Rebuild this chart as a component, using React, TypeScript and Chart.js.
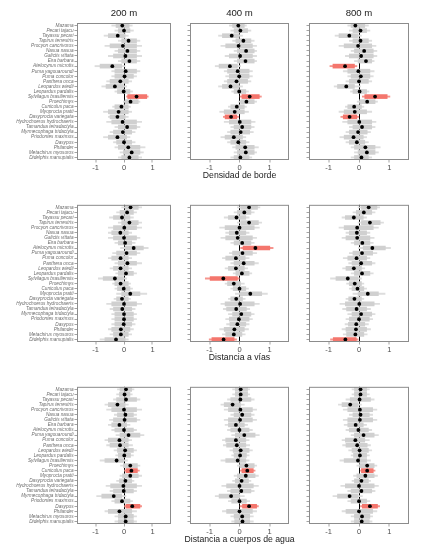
import React, { useEffect, useRef } from 'react';
import { Chart, registerables } from 'chart.js';

Chart.register(...registerables);

const FONT = '"Liberation Sans", Arial, Helvetica, sans-serif';

// ---------- categories / labels ----------
const species = [
  'Mazama', 'Pecari tajacu', 'Tayassu pecari', 'Tapirus terrestris', 'Procyon cancrivorus',
  'Nasua nasua', 'Galictis vittata', 'Eira barbara', 'Atelocynus microtis', 'Puma yagouaroundi',
  'Puma concolor', 'Panthera onca', 'Leopardus wiedii', 'Leopardus pardalis', 'Sylvilagus brasiliensis',
  'Proechimys', 'Cuniculus paca', 'Myoprocta pratti', 'Dasyprocta variegata', 'Hydrochoerus hydrochaeris',
  'Tamandua tetradactyla', 'Myrmecophaga tridactyla', 'Priodontes maximus', 'Dasypus', 'Philander',
  'Metachirus myosuros', 'Didelphis marsupialis',
];
const bufferTitles = ['200 m', '400 m', '800 m'];
const variableTitles = ['Densidad de borde', 'Distancia a vías', 'Distancia a cuerpos de agua'];
const xTicks = [-1, 0, 1];
const xMin = -1.65;
const xMax = 1.65;

// ---------- Densidad de borde ----------
const est_borde_200 = [-0.06, 0.00, -0.22, 0.16, -0.04, 0.12, 0.05, 0.19, -0.41, 0.06, 0.02, -0.13, -0.32, -0.01, 0.44, 0.23, -0.09, -0.19, -0.23, -0.05, 0.11, -0.04, -0.23, 0.00, 0.15, 0.27, 0.19];
const ci50_borde_200 = [[-0.28, 0.18], [-0.20, 0.21], [-0.55, 0.04], [-0.08, 0.44], [-0.49, 0.44], [-0.20, 0.44], [-0.37, 0.44], [-0.08, 0.44], [-0.84, -0.08], [-0.32, 0.44], [-0.32, 0.33], [-0.49, 0.15], [-0.63, -0.02], [-0.23, 0.21], [0.13, 0.80], [0.04, 0.50], [-0.32, 0.15], [-0.55, 0.15], [-0.49, 0.04], [-0.43, 0.44], [-0.20, 0.44], [-0.37, 0.27], [-0.55, 0.09], [-0.26, 0.27], [-0.20, 0.56], [-0.02, 0.56], [-0.08, 0.50]];
const ci95_borde_200 = [[-0.43, 0.29], [-0.32, 0.33], [-0.70, 0.15], [-0.20, 0.56], [-0.67, 0.62], [-0.32, 0.56], [-0.55, 0.62], [-0.20, 0.56], [-1.02, 0.04], [-0.43, 0.56], [-0.43, 0.44], [-0.61, 0.27], [-0.78, 0.09], [-0.32, 0.30], [0.09, 0.85], [-0.02, 0.56], [-0.40, 0.23], [-0.72, 0.27], [-0.55, 0.15], [-0.61, 0.62], [-0.32, 0.56], [-0.49, 0.39], [-0.72, 0.21], [-0.37, 0.39], [-0.32, 0.74], [-0.14, 0.68], [-0.20, 0.62]];

const est_borde_400 = [-0.04, 0.03, -0.26, 0.13, -0.03, 0.22, 0.02, 0.20, -0.32, -0.06, -0.01, -0.10, -0.30, -0.01, 0.34, 0.23, -0.09, -0.16, -0.28, 0.01, 0.09, 0.04, -0.19, -0.04, 0.19, 0.21, 0.03];
const ci50_borde_400 = [[-0.23, 0.16], [-0.18, 0.27], [-0.57, -0.01], [-0.12, 0.38], [-0.46, 0.43], [-0.07, 0.49], [-0.34, 0.43], [-0.07, 0.49], [-0.68, -0.07], [-0.40, 0.32], [-0.34, 0.32], [-0.40, 0.27], [-0.57, -0.01], [-0.18, 0.21], [0.08, 0.66], [0.04, 0.49], [-0.29, 0.16], [-0.51, 0.16], [-0.48, -0.09], [-0.34, 0.38], [-0.18, 0.38], [-0.29, 0.34], [-0.48, 0.10], [-0.29, 0.21], [-0.12, 0.49], [-0.07, 0.49], [-0.18, 0.32]];
const ci95_borde_400 = [[-0.34, 0.23], [-0.29, 0.38], [-0.70, 0.10], [-0.23, 0.49], [-0.62, 0.57], [-0.18, 0.57], [-0.48, 0.57], [-0.18, 0.57], [-0.81, 0.04], [-0.51, 0.43], [-0.46, 0.43], [-0.51, 0.38], [-0.70, 0.10], [-0.26, 0.30], [0.02, 0.73], [-0.03, 0.57], [-0.37, 0.23], [-0.66, 0.30], [-0.54, -0.03], [-0.51, 0.52], [-0.29, 0.49], [-0.40, 0.46], [-0.62, 0.21], [-0.40, 0.32], [-0.23, 0.63], [-0.18, 0.57], [-0.29, 0.41]];

const est_borde_800 = [-0.12, 0.05, -0.32, 0.05, -0.03, 0.17, 0.07, 0.23, -0.46, -0.02, 0.06, 0.00, -0.42, 0.02, 0.53, 0.27, -0.16, -0.14, -0.31, 0.01, 0.10, -0.03, -0.18, -0.07, 0.21, 0.26, 0.08];
const ci50_borde_800 = [[-0.26, 0.19], [-0.20, 0.25], [-0.66, -0.03], [-0.20, 0.31], [-0.49, 0.42], [-0.15, 0.47], [-0.32, 0.47], [-0.03, 0.42], [-0.86, -0.15], [-0.37, 0.36], [-0.26, 0.36], [-0.32, 0.31], [-0.71, -0.15], [-0.20, 0.25], [0.19, 0.93], [0.02, 0.53], [-0.37, 0.08], [-0.49, 0.25], [-0.52, -0.07], [-0.37, 0.42], [-0.20, 0.42], [-0.32, 0.27], [-0.49, 0.14], [-0.32, 0.19], [-0.15, 0.53], [-0.03, 0.53], [-0.15, 0.31]];
const ci95_borde_800 = [[-0.37, 0.31], [-0.32, 0.36], [-0.79, 0.08], [-0.32, 0.42], [-0.66, 0.56], [-0.26, 0.59], [-0.45, 0.59], [-0.15, 0.50], [-0.96, -0.07], [-0.52, 0.50], [-0.37, 0.47], [-0.43, 0.42], [-0.82, 0.05], [-0.28, 0.33], [0.11, 1.02], [-0.06, 0.61], [-0.45, 0.16], [-0.66, 0.42], [-0.60, -0.01], [-0.54, 0.56], [-0.32, 0.53], [-0.43, 0.38], [-0.63, 0.25], [-0.43, 0.31], [-0.26, 0.70], [-0.15, 0.64], [-0.26, 0.42]];

// ---------- Distancia a vías ----------
const est_vias_200 = [0.23, 0.11, -0.07, 0.19, 0.01, -0.13, 0.00, 0.04, 0.34, 0.09, -0.12, 0.12, -0.12, 0.07, -0.32, -0.12, -0.01, 0.22, -0.07, 0.00, -0.06, 0.00, 0.00, -0.01, -0.11, -0.11, -0.28];
const ci50_vias_200 = [[0.04, 0.50], [-0.14, 0.33], [-0.37, 0.21], [-0.08, 0.50], [-0.37, 0.44], [-0.43, 0.15], [-0.37, 0.44], [-0.20, 0.27], [0.04, 0.68], [-0.26, 0.44], [-0.43, 0.15], [-0.20, 0.44], [-0.37, 0.15], [-0.20, 0.33], [-0.73, -0.02], [-0.32, 0.15], [-0.23, 0.21], [-0.08, 0.56], [-0.26, 0.15], [-0.43, 0.44], [-0.37, 0.27], [-0.32, 0.33], [-0.32, 0.33], [-0.32, 0.27], [-0.43, 0.21], [-0.37, 0.15], [-0.67, 0.04]];
const ci95_vias_200 = [[-0.08, 0.62], [-0.26, 0.44], [-0.51, 0.33], [-0.20, 0.62], [-0.55, 0.62], [-0.55, 0.27], [-0.55, 0.56], [-0.32, 0.39], [-0.12, 0.85], [-0.40, 0.56], [-0.55, 0.27], [-0.32, 0.62], [-0.49, 0.27], [-0.29, 0.44], [-0.90, 0.09], [-0.40, 0.23], [-0.32, 0.30], [-0.26, 0.80], [-0.35, 0.23], [-0.61, 0.62], [-0.49, 0.39], [-0.43, 0.44], [-0.43, 0.44], [-0.43, 0.39], [-0.55, 0.33], [-0.49, 0.27], [-0.84, 0.15]];

const est_vias_400 = [0.32, 0.16, -0.10, 0.32, 0.00, -0.09, -0.06, 0.09, 0.53, 0.10, -0.12, 0.14, -0.12, 0.08, -0.54, -0.19, 0.00, 0.36, -0.11, 0.02, -0.11, 0.06, -0.02, -0.07, -0.17, -0.19, -0.53];
const ci50_vias_400 = [[0.04, 0.60], [-0.07, 0.38], [-0.37, 0.21], [0.04, 0.63], [-0.48, 0.49], [-0.34, 0.21], [-0.46, 0.43], [-0.18, 0.38], [0.12, 1.01], [-0.23, 0.43], [-0.46, 0.19], [-0.18, 0.49], [-0.37, 0.16], [-0.12, 0.32], [-0.98, -0.07], [-0.40, 0.04], [-0.21, 0.21], [0.01, 0.74], [-0.29, 0.10], [-0.48, 0.49], [-0.43, 0.23], [-0.23, 0.38], [-0.34, 0.32], [-0.32, 0.21], [-0.51, 0.16], [-0.46, 0.08], [-0.92, -0.18]];
const ci95_vias_400 = [[-0.07, 0.68], [-0.18, 0.49], [-0.51, 0.32], [-0.07, 0.74], [-0.66, 0.66], [-0.46, 0.32], [-0.62, 0.57], [-0.29, 0.49], [0.04, 1.12], [-0.34, 0.57], [-0.57, 0.32], [-0.29, 0.63], [-0.48, 0.27], [-0.21, 0.41], [-1.14, -0.01], [-0.48, 0.16], [-0.29, 0.30], [-0.14, 0.93], [-0.37, 0.19], [-0.62, 0.66], [-0.54, 0.34], [-0.37, 0.49], [-0.46, 0.43], [-0.43, 0.32], [-0.66, 0.30], [-0.57, 0.19], [-1.01, -0.10]];

const est_vias_800 = [0.32, 0.16, -0.17, 0.36, -0.06, -0.07, -0.06, 0.11, 0.44, 0.10, -0.08, 0.07, -0.17, 0.10, -0.37, -0.14, -0.05, 0.29, -0.15, 0.01, -0.08, 0.07, 0.00, -0.09, -0.10, -0.12, -0.45];
const ci50_vias_800 = [[0.08, 0.59], [-0.09, 0.42], [-0.45, 0.14], [0.08, 0.70], [-0.49, 0.47], [-0.32, 0.25], [-0.43, 0.36], [-0.15, 0.36], [0.14, 0.87], [-0.20, 0.45], [-0.37, 0.25], [-0.23, 0.42], [-0.43, 0.08], [-0.15, 0.36], [-0.76, -0.03], [-0.32, 0.08], [-0.23, 0.16], [-0.03, 0.64], [-0.34, 0.08], [-0.45, 0.50], [-0.41, 0.25], [-0.23, 0.42], [-0.32, 0.34], [-0.35, 0.19], [-0.43, 0.25], [-0.41, 0.16], [-0.85, -0.09]];
const ci95_vias_800 = [[-0.03, 0.68], [-0.20, 0.53], [-0.56, 0.25], [-0.03, 0.81], [-0.66, 0.64], [-0.43, 0.36], [-0.56, 0.50], [-0.26, 0.47], [-0.02, 1.04], [-0.32, 0.59], [-0.52, 0.36], [-0.34, 0.53], [-0.54, 0.19], [-0.26, 0.47], [-0.94, 0.08], [-0.41, 0.16], [-0.32, 0.25], [-0.20, 0.86], [-0.43, 0.16], [-0.63, 0.68], [-0.54, 0.38], [-0.37, 0.53], [-0.43, 0.45], [-0.46, 0.31], [-0.56, 0.38], [-0.52, 0.27], [-0.94, -0.03]];

// ---------- Distancia a cuerpos de agua ----------
const est_agua_200 = [0.07, 0.02, 0.07, -0.23, 0.00, 0.05, 0.02, -0.16, 0.00, 0.16, -0.16, -0.14, 0.04, 0.01, -0.26, 0.22, 0.26, 0.22, 0.05, -0.02, -0.01, -0.36, -0.07, 0.29, -0.16, 0.06, 0.06];
const ci50_agua_200 = [[-0.14, 0.27], [-0.16, 0.21], [-0.26, 0.44], [-0.55, 0.04], [-0.43, 0.44], [-0.23, 0.33], [-0.37, 0.44], [-0.43, 0.09], [-0.32, 0.33], [-0.14, 0.56], [-0.55, 0.15], [-0.49, 0.15], [-0.23, 0.33], [-0.20, 0.23], [-0.67, 0.00], [-0.02, 0.47], [0.07, 0.47], [-0.05, 0.50], [-0.16, 0.27], [-0.47, 0.44], [-0.37, 0.33], [-0.78, -0.08], [-0.32, 0.21], [0.07, 0.56], [-0.55, 0.27], [-0.20, 0.33], [-0.20, 0.33]];
const ci95_agua_200 = [[-0.23, 0.35], [-0.26, 0.29], [-0.37, 0.56], [-0.67, 0.15], [-0.61, 0.62], [-0.34, 0.44], [-0.51, 0.56], [-0.55, 0.21], [-0.43, 0.44], [-0.28, 0.70], [-0.67, 0.27], [-0.61, 0.30], [-0.35, 0.44], [-0.29, 0.33], [-0.84, 0.12], [-0.12, 0.56], [0.02, 0.54], [-0.14, 0.62], [-0.26, 0.35], [-0.63, 0.62], [-0.49, 0.44], [-0.96, 0.07], [-0.43, 0.30], [0.02, 0.62], [-0.67, 0.44], [-0.32, 0.44], [-0.32, 0.44]];

const est_agua_400 = [0.04, 0.04, 0.03, -0.23, 0.03, 0.09, 0.02, -0.12, 0.00, 0.16, -0.12, -0.09, 0.04, 0.02, -0.06, 0.23, 0.26, 0.21, 0.07, 0.00, 0.06, -0.28, 0.00, 0.32, 0.00, 0.09, 0.10];
const ci50_agua_400 = [[-0.14, 0.27], [-0.14, 0.27], [-0.29, 0.38], [-0.51, 0.04], [-0.37, 0.43], [-0.18, 0.38], [-0.37, 0.43], [-0.37, 0.16], [-0.29, 0.32], [-0.14, 0.52], [-0.46, 0.21], [-0.43, 0.21], [-0.21, 0.32], [-0.18, 0.23], [-0.46, 0.21], [0.01, 0.49], [0.08, 0.46], [-0.07, 0.52], [-0.14, 0.30], [-0.43, 0.46], [-0.29, 0.38], [-0.68, 0.01], [-0.26, 0.23], [0.10, 0.57], [-0.43, 0.43], [-0.18, 0.34], [-0.16, 0.34]];
const ci95_agua_400 = [[-0.23, 0.34], [-0.23, 0.34], [-0.40, 0.49], [-0.62, 0.16], [-0.51, 0.57], [-0.29, 0.49], [-0.51, 0.57], [-0.48, 0.27], [-0.40, 0.43], [-0.26, 0.66], [-0.57, 0.32], [-0.54, 0.34], [-0.32, 0.43], [-0.26, 0.32], [-0.62, 0.32], [-0.07, 0.57], [0.03, 0.52], [-0.18, 0.63], [-0.23, 0.38], [-0.59, 0.63], [-0.40, 0.49], [-0.81, 0.16], [-0.37, 0.34], [0.02, 0.63], [-0.57, 0.57], [-0.29, 0.46], [-0.26, 0.46]];

const est_agua_800 = [0.05, 0.05, 0.02, -0.29, 0.03, 0.05, 0.03, -0.11, -0.02, 0.15, -0.12, -0.06, 0.02, 0.03, -0.03, 0.27, 0.27, 0.21, 0.08, 0.00, 0.08, -0.31, 0.00, 0.36, 0.00, 0.10, 0.09];
const ci50_agua_800 = [[-0.15, 0.25], [-0.15, 0.25], [-0.29, 0.38], [-0.56, -0.03], [-0.37, 0.45], [-0.20, 0.34], [-0.37, 0.45], [-0.37, 0.14], [-0.32, 0.31], [-0.15, 0.50], [-0.45, 0.19], [-0.43, 0.27], [-0.23, 0.31], [-0.18, 0.25], [-0.49, 0.25], [0.02, 0.50], [0.08, 0.47], [-0.07, 0.50], [-0.15, 0.31], [-0.45, 0.50], [-0.26, 0.42], [-0.71, -0.03], [-0.26, 0.25], [0.11, 0.61], [-0.43, 0.45], [-0.15, 0.36], [-0.15, 0.34]];
const ci95_agua_800 = [[-0.23, 0.34], [-0.23, 0.34], [-0.43, 0.50], [-0.68, 0.08], [-0.52, 0.59], [-0.32, 0.45], [-0.52, 0.59], [-0.49, 0.25], [-0.43, 0.42], [-0.26, 0.64], [-0.56, 0.34], [-0.54, 0.38], [-0.34, 0.42], [-0.26, 0.34], [-0.63, 0.38], [-0.07, 0.59], [0.05, 0.53], [-0.18, 0.61], [-0.23, 0.38], [-0.60, 0.64], [-0.37, 0.53], [-0.86, 0.11], [-0.37, 0.36], [0.05, 0.68], [-0.56, 0.59], [-0.26, 0.45], [-0.26, 0.43]];

type PanelData = { est: number[]; inner: number[][]; outer: number[][] };

const panels: PanelData[][] = [
  [
    { est: est_borde_200, inner: ci50_borde_200, outer: ci95_borde_200 },
    { est: est_borde_400, inner: ci50_borde_400, outer: ci95_borde_400 },
    { est: est_borde_800, inner: ci50_borde_800, outer: ci95_borde_800 },
  ],
  [
    { est: est_vias_200, inner: ci50_vias_200, outer: ci95_vias_200 },
    { est: est_vias_400, inner: ci50_vias_400, outer: ci95_vias_400 },
    { est: est_vias_800, inner: ci50_vias_800, outer: ci95_vias_800 },
  ],
  [
    { est: est_agua_200, inner: ci50_agua_200, outer: ci95_agua_200 },
    { est: est_agua_400, inner: ci50_agua_400, outer: ci95_agua_400 },
    { est: est_agua_800, inner: ci50_agua_800, outer: ci95_agua_800 },
  ],
];

// ---------- layout (page pixels) ----------
const colBoxLeft = [77, 190, 309];
const colBoxWidth = [94, 99, 100];
const colSide = [77, 20, 6];
const rowBoxTop = [23, 204, 386];
const rowBoxHeight = [137, 138, 138];

const panelBorder = {
  id: 'panelBorder',
  afterDraw(chart: any) {
    const { ctx, chartArea: a } = chart;
    ctx.save();
    ctx.strokeStyle = '#8c8c8c';
    ctx.lineWidth = 1;
    ctx.strokeRect(a.left + 0.5, a.top + 0.5, a.right - a.left - 1, a.bottom - a.top - 1);
    ctx.restore();
  },
};

function Panel({ r, c }: { r: number; c: number }) {
  const ref = useRef<HTMLCanvasElement>(null);
  const side = colSide[c];
  const topH = r === 0 ? 23 : 3;
  const bottomH = 24;
  const W = side * 2 + colBoxWidth[c];
  const H = topH + rowBoxHeight[r] + bottomH;

  useEffect(() => {
    const d = panels[r][c];
    const sig = d.outer.map(([lo, hi]) => lo > 0 || hi < 0);
    const chart = new Chart(ref.current as HTMLCanvasElement, {
      type: 'bar',
      data: {
        labels: species,
        datasets: [
          {
            type: 'scatter',
            data: d.est.map((v, i) => ({ x: v, y: species[i] })),
            backgroundColor: '#000000',
            borderColor: '#000000',
            pointRadius: 1.9,
            pointHoverRadius: 1.9,
            pointBorderWidth: 0,
            order: 0,
            xAxisID: 'x',
            yAxisID: 'y',
          } as any,
          {
            type: 'bar',
            data: d.inner,
            backgroundColor: sig.map((s) => (s ? '#f4766d' : '#d0d0d0')),
            barThickness: 4,
            grouped: false,
            borderWidth: 0,
            borderSkipped: false,
            order: 1,
            xAxisID: 'x',
            yAxisID: 'y',
          } as any,
          {
            type: 'bar',
            data: d.outer,
            backgroundColor: sig.map((s) => (s ? '#f6958e' : '#dddddd')),
            barThickness: 1.2,
            grouped: false,
            borderWidth: 0,
            borderSkipped: false,
            order: 2,
            xAxisID: 'x',
            yAxisID: 'y',
          } as any,
        ],
      },
      options: {
        indexAxis: 'y',
        responsive: false,
        maintainAspectRatio: false,
        animation: false,
        events: [],
        layout: { padding: { top: r === 0 ? 0 : 3, bottom: c === 1 ? 0 : 14, left: 0, right: 0 } },
        plugins: {
          legend: { display: false },
          tooltip: { enabled: false },
          title: {
            display: r === 0,
            text: bufferTitles[c],
            font: { family: FONT, size: 9.6, weight: 'normal' },
            color: '#1a1a1a',
            padding: { top: 7.5, bottom: 3.98 },
          },
          subtitle: {
            display: c === 1,
            position: 'bottom',
            text: variableTitles[r],
            font: { family: FONT, size: 8.7, weight: 'normal' },
            color: '#1a1a1a',
            padding: { top: 0.3, bottom: 3.26 },
          },
        },
        scales: {
          x: {
            type: 'linear',
            position: 'bottom',
            min: xMin,
            max: xMax,
            z: 1,
            afterBuildTicks: (s: any) => {
              s.ticks = xTicks.map((v) => ({ value: v }));
            },
            afterFit: (s: any) => {
              s.height = 10;
            },
            grid: {
              display: true,
              drawOnChartArea: true,
              drawTicks: true,
              tickLength: 2.5,
              tickColor: '#666666',
              tickWidth: 0.6,
              color: (ctx: any) => (ctx.tick && ctx.tick.value === 0 ? '#000000' : 'rgba(0,0,0,0)'),
              lineWidth: (ctx: any) => (ctx.tick && ctx.tick.value === 0 ? 1 : 0),
            },
            border: { display: false },
            ticks: {
              font: { family: FONT, size: 7.5 },
              color: '#4d4d4d',
              padding: 0.5,
              maxRotation: 0,
              autoSkip: false,
            },
          },
          y: {
            type: 'category',
            position: 'left',
            offset: true,
            afterFit: (s: any) => {
              s.width = side;
            },
            grid: {
              display: true,
              offset: false,
              drawOnChartArea: false,
              drawTicks: true,
              tickLength: 2.5,
              color: '#666666',
              lineWidth: 0.6,
            },
            border: { display: false },
            ticks: {
              autoSkip: false,
              padding: 1,
              font: { family: FONT, size: 4.7, style: 'italic' },
              color: '#6e6e6e',
              callback: (_v: any, i: number) => (c === 0 ? species[i] : ''),
            },
          },
          yr: {
            type: 'linear',
            position: 'right',
            display: true,
            afterFit: (s: any) => {
              s.width = side;
            },
            grid: { display: false },
            border: { display: false },
            ticks: { display: false },
          },
        },
      } as any,
      plugins: [panelBorder],
    });
    return () => chart.destroy();
  }, [r, c]);

  return (
    <canvas
      ref={ref}
      width={W}
      height={H}
      style={{
        position: 'absolute',
        left: colBoxLeft[c] - side,
        top: rowBoxTop[r] - topH,
        width: W,
        height: H,
      }}
    />
  );
}

export default function App() {
  const cells: JSX.Element[] = [];
  for (let r = 0; r < 3; r++) {
    for (let c = 0; c < 3; c++) {
      cells.push(<Panel key={`${r}-${c}`} r={r} c={c} />);
    }
  }
  return (
    <div
      style={{
        position: 'absolute',
        left: 0,
        top: 0,
        width: 429,
        height: 551,
        background: '#ffffff',
        overflow: 'hidden',
      }}
    >
      {cells}
    </div>
  );
}
